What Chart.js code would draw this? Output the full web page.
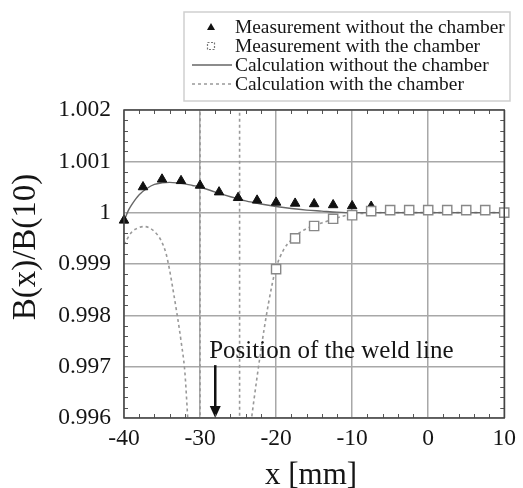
<!DOCTYPE html>
<html><head><meta charset="utf-8">
<script src="https://cdn.jsdelivr.net/npm/chart.js@4/dist/chart.umd.min.js"></script>
<style>html,body{margin:0;padding:0;background:#fff;}#wrap{width:523px;height:488px;}</style>
</head><body><div id="wrap"><canvas id="c" width="523" height="488"></canvas></div>
<script>
// ---- data ----
const xTicks = [-40, -30, -20, -10, 0, 10];
const xTickLabels = ["-40", "-30", "-20", "-10", "0", "10"];
const yTicks = [0.996, 0.997, 0.998, 0.999, 1.000, 1.001, 1.002];
const yTickLabels = ["0.996", "0.997", "0.998", "0.999", "1", "1.001", "1.002"];

const xMeasNo = [-40, -37.5, -35, -32.5, -30, -27.5, -25, -22.5, -20, -17.5, -15, -12.5, -10, -7.5];
const yMeasNo = [0.99985, 1.0005, 1.00065, 1.00062, 1.00053, 1.0004, 1.00029, 1.00024, 1.0002, 1.00018, 1.00017, 1.00015, 1.00013, 1.00012];

const xMeasWith = [-20, -17.5, -15, -12.5, -10, -7.5, -5, -2.5, 0, 2.5, 5, 7.5, 10];
const yMeasWith = [0.9989, 0.9995, 0.99974, 0.99988, 0.99995, 1.00003, 1.00005, 1.00005, 1.00005, 1.00005, 1.00005, 1.00005, 1.0];

const xCalcNo = [-40, -39.5, -39, -38.5, -38, -37, -36, -35, -34, -33, -32, -31, -30, -28, -26, -24, -22, -20, -18, -16, -14, -12, -10, -5, 0, 5, 10];
const yCalcNo = [0.99983, 1.00002, 1.00015, 1.00026, 1.00035, 1.00047, 1.00055, 1.00058, 1.00059, 1.00058, 1.00056, 1.00053, 1.0005, 1.0004, 1.00031, 1.00023, 1.00017, 1.00012, 1.00008, 1.00005, 1.00003, 1.00001, 1.0, 1.0, 1.0, 1.0, 1.0];

const xCalcWithL = [-40, -39, -38, -37.3, -36.5, -35.5, -35, -34.5, -34, -33.5, -33, -32.5, -32, -31.7, -31.4];
const yCalcWithL = [0.99938, 0.99962, 0.99971, 0.99973, 0.99969, 0.99955, 0.99942, 0.99922, 0.99888, 0.99845, 0.998, 0.9975, 0.9969, 0.9962, 0.9954];
const xCalcWithR = [-23.4, -22.5, -21.5, -20.5, -20, -19, -18, -17, -16, -15, -14, -13, -12, -11, -10, -8, -6, -4, 0, 5, 10];
const yCalcWithR = [0.9958, 0.9968, 0.9978, 0.99862, 0.99893, 0.99928, 0.99947, 0.9996, 0.99969, 0.99975, 0.9998, 0.99985, 0.9999, 0.99994, 0.99997, 0.99999, 1.0, 1.0, 1.0, 1.0, 1.0];

const xEdges = [-30, -24.8];
const yEdgeSpan = [0.995, 1.003];

const weldX = -28;
const weldArrowTop = 0.99703;
const weldLabel = "Position of the weld line";
const weldLabelPos = [-28.8, 0.99729];

const legendLabels = ["Measurement without the chamber", "Measurement with the chamber", "Calculation without the chamber", "Calculation with the chamber"];
const xTitle = "x [mm]";
const yTitle = "B(x)/B(10)";

// ---- build ----
const pts = (xs, ys) => xs.map((x, i) => ({x: x, y: ys[i]}));
const calcWith = pts(xCalcWithL, yCalcWithL).concat([{x: -28, y: null}], pts(xCalcWithR, yCalcWithR));
const edges = [{x: xEdges[0], y: yEdgeSpan[0]}, {x: xEdges[0], y: yEdgeSpan[1]}, {x: -27, y: null}, {x: xEdges[1], y: yEdgeSpan[1]}, {x: xEdges[1], y: yEdgeSpan[0]}];

const SERIF = '"Liberation Serif", "Times New Roman", serif';
const GRAY_SOLID = '#666';
const GRAY_DASH = '#999';
const TEXT = '#151515';

const styles = [{kind: 'tri'}, {kind: 'sq'}, {kind: 'line'}, {kind: 'dash'}];

const extras = {
  id: 'extras',
  afterDatasetsDraw(chart) {
    const ctx = chart.ctx, xs = chart.scales.x, ys = chart.scales.y;
    const ax = xs.getPixelForValue(weldX);
    const aTop = ys.getPixelForValue(weldArrowTop);
    const aBot = ys.getPixelForValue(0.996);
    ctx.save();
    ctx.strokeStyle = '#111'; ctx.fillStyle = '#111'; ctx.lineWidth = 2.5;
    ctx.beginPath(); ctx.moveTo(ax, aTop); ctx.lineTo(ax, aBot - 9); ctx.stroke();
    ctx.beginPath(); ctx.moveTo(ax - 5.5, aBot - 12); ctx.lineTo(ax + 5.5, aBot - 12); ctx.lineTo(ax, aBot); ctx.closePath(); ctx.fill();
    ctx.font = '25px ' + SERIF; ctx.textBaseline = 'middle'; ctx.textAlign = 'left';
    ctx.fillStyle = TEXT;
    ctx.fillText(weldLabel, xs.getPixelForValue(weldLabelPos[0]), ys.getPixelForValue(weldLabelPos[1]));
    ctx.restore();
  },
  afterDraw(chart) {
    const ctx = chart.ctx, xs = chart.scales.x, ys = chart.scales.y, a = chart.chartArea;
    ctx.save();
    ctx.strokeStyle = '#555'; ctx.lineWidth = 1;
    ctx.beginPath();
    for (let v = -40; v <= 10; v += 2) {
      if (v % 10 === 0) continue;
      const px = Math.round(xs.getPixelForValue(v)) + 0.5;
      ctx.moveTo(px, a.bottom); ctx.lineTo(px, a.bottom - 4);
      ctx.moveTo(px, a.top); ctx.lineTo(px, a.top + 4);
    }
    for (let k = 0; k <= 30; k++) {
      if (k % 5 === 0) continue;
      const v = 0.996 + k * 0.0002;
      const py = Math.round(ys.getPixelForValue(v)) + 0.5;
      ctx.moveTo(a.left, py); ctx.lineTo(a.left + 4, py);
      ctx.moveTo(a.right, py); ctx.lineTo(a.right - 4, py);
    }
    ctx.stroke();
    ctx.strokeStyle = '#444'; ctx.lineWidth = 1.5;
    ctx.strokeRect(a.left, a.top, a.right - a.left, a.bottom - a.top);
    ctx.fillStyle = TEXT;
    ctx.font = '31px ' + SERIF; ctx.textAlign = 'center'; ctx.textBaseline = 'middle';
    ctx.fillText(xTitle, 311, 476);
    ctx.save(); ctx.translate(26, 247); ctx.rotate(-Math.PI / 2);
    ctx.font = '33px ' + SERIF;
    ctx.fillText(yTitle, 0, 0); ctx.restore();
    const L = {left: 184, top: 12, right: 510, bottom: 101};
    ctx.strokeStyle = '#cfcfcf'; ctx.lineWidth = 1.5;
    ctx.strokeRect(L.left, L.top, L.right - L.left, L.bottom - L.top);
    const rows = [27, 46, 65, 84];
    ctx.font = '19.4px ' + SERIF; ctx.textAlign = 'left'; ctx.textBaseline = 'middle';
    legendLabels.forEach((lab, i) => {
      const y = rows[i];
      const k = styles[i].kind;
      if (k === 'tri') {
        ctx.fillStyle = '#111';
        ctx.beginPath(); ctx.moveTo(211, y - 4); ctx.lineTo(215, y + 3); ctx.lineTo(207, y + 3); ctx.closePath(); ctx.fill();
      } else if (k === 'sq') {
        ctx.strokeStyle = '#777'; ctx.lineWidth = 1.2; ctx.setLineDash([2, 1.5]);
        ctx.strokeRect(207.5, y - 3.5, 7, 7); ctx.setLineDash([]);
      } else if (k === 'line') {
        ctx.strokeStyle = GRAY_SOLID; ctx.lineWidth = 1.3;
        ctx.beginPath(); ctx.moveTo(192, y); ctx.lineTo(232, y); ctx.stroke();
      } else {
        ctx.strokeStyle = GRAY_DASH; ctx.lineWidth = 1.5; ctx.setLineDash([3, 3]);
        ctx.beginPath(); ctx.moveTo(192, y); ctx.lineTo(232, y); ctx.stroke(); ctx.setLineDash([]);
      }
      ctx.fillStyle = TEXT;
      ctx.fillText(lab, 235, y + 1);
    });
    ctx.restore();
  }
};

new Chart(document.getElementById('c'), {
  type: 'scatter',
  data: {
    datasets: [
      {label: 'edges', data: edges, showLine: true, borderColor: GRAY_DASH, borderWidth: 1.6, borderDash: [3, 3], pointRadius: 0, spanGaps: false, order: 5},
      {label: legendLabels[3], data: calcWith, showLine: true, borderColor: GRAY_DASH, borderWidth: 1.6, borderDash: [3, 3], pointRadius: 0, spanGaps: false, cubicInterpolationMode: 'monotone', order: 4},
      {label: legendLabels[2], data: pts(xCalcNo, yCalcNo), showLine: true, borderColor: GRAY_SOLID, borderWidth: 1.4, pointRadius: 0, cubicInterpolationMode: 'monotone', order: 3},
      {label: legendLabels[0], data: pts(xMeasNo, yMeasNo), showLine: false, pointStyle: 'triangle', pointRadius: 5.5, backgroundColor: '#111', borderColor: '#111', borderWidth: 1, clip: false, order: 2},
      {label: legendLabels[1], data: pts(xMeasWith, yMeasWith), showLine: false, pointStyle: 'rect', pointRadius: 6.5, backgroundColor: '#fff', borderColor: '#888', borderWidth: 1.4, clip: false, order: 1}
    ]
  },
  options: {
    responsive: false,
    animation: false,
    devicePixelRatio: 1,
    layout: {padding: {top: 110, right: 13, left: 0, bottom: 0}},
    plugins: {legend: {display: false}, tooltip: {enabled: false}},
    scales: {
      x: {
        type: 'linear', min: -40, max: 10,
        afterBuildTicks: s => { s.ticks = xTicks.map(v => ({value: v})); },
        afterFit: s => { s.height = 70; },
        grid: {color: '#a8a8a8', lineWidth: 1.5, drawTicks: false},
        border: {display: false},
        ticks: {padding: 7, color: TEXT, font: {family: SERIF, size: 23.5}, maxRotation: 0,
          callback: (v) => xTickLabels[xTicks.indexOf(v)]}
      },
      y: {
        type: 'linear', min: 0.996, max: 1.002,
        afterBuildTicks: s => { s.ticks = yTicks.map(v => ({value: v})); },
        afterFit: s => { s.width = 124; },
        grid: {color: '#a8a8a8', lineWidth: 1.5, drawTicks: false},
        border: {display: false},
        ticks: {padding: 13, color: TEXT, font: {family: SERIF, size: 23.5},
          callback: (v) => { const i = yTicks.findIndex(t => Math.abs(t - v) < 1e-9); return yTickLabels[i]; }}
      }
    }
  },
  plugins: [extras]
});
</script>
</body></html>
